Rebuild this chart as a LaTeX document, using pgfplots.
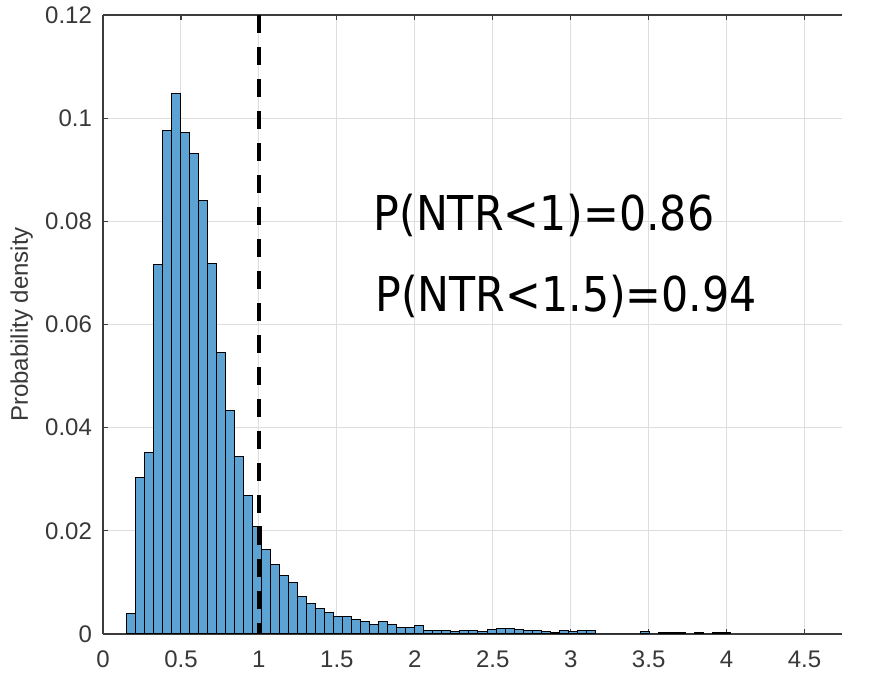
\documentclass[border=0pt]{standalone}
\usepackage{pgfplots}
\pgfplotsset{compat=1.18}
\usepackage{fontspec}
\usepackage{graphicx}
\setmainfont{Liberation Sans}
\newfontfamily\annfont{DejaVu Sans}
\definecolor{barfill}{RGB}{92,162,211}
\definecolor{gridc}{RGB}{222,222,222}
\definecolor{axc}{RGB}{60,60,60}
\begin{document}
\begin{tikzpicture}
\begin{axis}[
  scale only axis,
  width=369.5pt, height=309.5pt,
  xmin=0, xmax=4.74, ymin=0, ymax=0.12,
  axis x line*=box, axis y line*=left,
  axis line style={color=axc, line width=0.6pt},
  xtick={0,0.5,1,1.5,2,2.5,3,3.5,4,4.5},
  xticklabels={0,0.5,1,1.5,2,2.5,3,3.5,4,4.5},
  ytick={0,0.02,0.04,0.06,0.08,0.1,0.12},
  yticklabels={0,0.02,0.04,0.06,0.08,0.1,0.12},
  tick align=inside, major tick length=2.5pt,
  tick style={color=axc, line width=0.6pt},
  grid=major, major grid style={color=gridc, line width=0.5pt},
  tick label style={font=\fontsize{12}{14}\selectfont, text=black!78},
  xticklabel style={yshift=-5pt},
  yticklabel style={xshift=-2pt},
  every axis y label/.style={at={(axis description cs:-0.1099,0.5)}, rotate=90, anchor=center, font=\fontsize{12}{14}\selectfont, text=black!78},
  ylabel={Probability density},
  clip=false,
]
\coordinate (ll) at (rel axis cs:0,0);
\coordinate (ur) at (rel axis cs:1,1);
\addplot[ybar interval, fill=barfill, draw=black, line width=0.5pt] coordinates {
(0.1510,0.0040) (0.2088,0.0303) (0.2666,0.0352) (0.3244,0.0717) (0.3822,0.0977)
(0.4400,0.1047) (0.4978,0.0972) (0.5556,0.0932) (0.6134,0.0840) (0.6712,0.0719)
(0.7290,0.0546) (0.7868,0.0433) (0.8446,0.0345) (0.9024,0.0268) (0.9602,0.0209)
(1.0180,0.0163) (1.0758,0.0135) (1.1336,0.0113) (1.1914,0.0099) (1.2492,0.0073)
(1.3070,0.0059) (1.3648,0.0050) (1.4226,0.0042) (1.4804,0.0033) (1.5382,0.0033)
(1.5960,0.0028) (1.6538,0.0025) (1.7116,0.0019) (1.7694,0.0025) (1.8272,0.0019)
(1.8850,0.0012) (1.9428,0.0012) (2.0006,0.0016) (2.0584,0.0007) (2.1162,0.0007)
(2.1740,0.0007) (2.2318,0.0004) (2.2896,0.0007) (2.3474,0.0007) (2.4052,0.0004)
(2.4630,0.0008) (2.5208,0.0010) (2.5786,0.0011) (2.6364,0.0008) (2.6942,0.0007)
(2.7520,0.0006) (2.8098,0.0005) (2.8676,0.0003) (2.9254,0.0006) (2.9832,0.0004)
(3.0410,0.0007) (3.0988,0.0006) (3.1566,0) (3.2144,0) (3.2722,0)
(3.3300,0) (3.3878,0) (3.4456,0.0004) (3.5034,0) (3.5612,0.0002)
(3.6190,0.0002) (3.6768,0.0002) (3.7346,0) (3.7924,0.0002) (3.8502,0)
(3.9080,0.0002) (3.9658,0.0002) (4.0236,0)
};
\addplot[black, line width=2pt, dash pattern=on 9pt off 7pt] coordinates {(1,0.12) (1,0)};
\node[anchor=base west, inner sep=0pt, font=\annfont\fontsize{24}{28}\selectfont] at (axis cs:1.733,0.0783) {\scalebox{0.89}[1]{P(NTR<1)=0.86}};
\node[anchor=base west, inner sep=0pt, font=\annfont\fontsize{24}{28}\selectfont] at (axis cs:1.744,0.0625) {\scalebox{0.89}[1]{P(NTR<1.5)=0.94}};
\end{axis}
\pgfresetboundingbox
\path ([shift={(-51.5pt,-21pt)}]ll) rectangle ([shift={(16.5pt,7.5pt)}]ur);
\end{tikzpicture}
\end{document}
